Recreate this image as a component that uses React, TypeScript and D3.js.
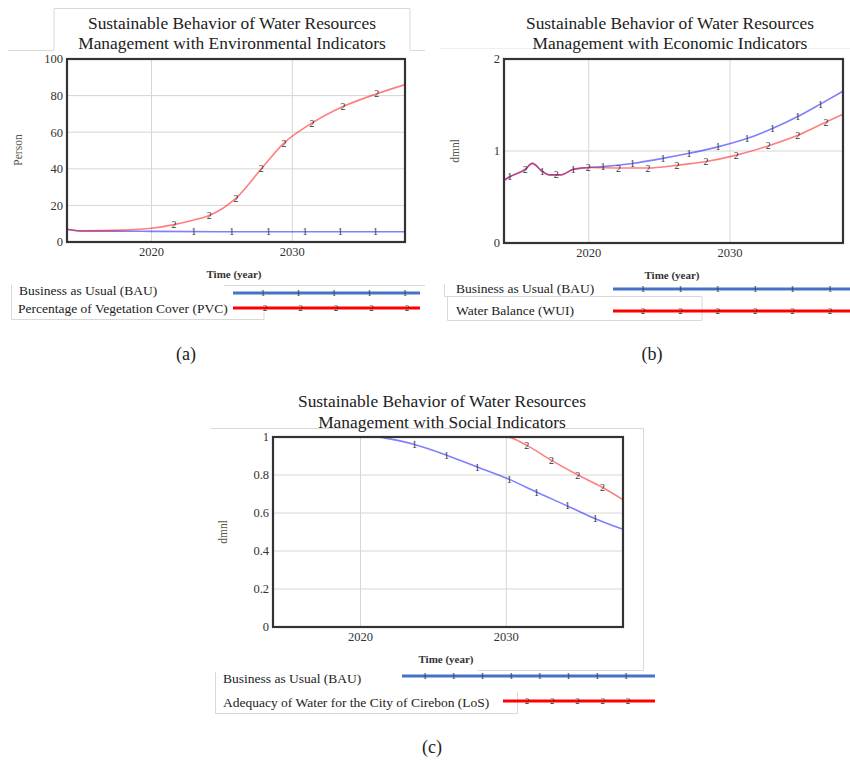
import React from 'react';
import * as d3 from 'd3';

// (a) environmental indicators
const envBauYears = [2014, 2015, 2018, 2020, 2025, 2038];
const envBauValues = [7, 6, 5.9, 5.8, 5.6, 5.6];
const envBauMarkers = [2023.0, 2025.7, 2028.3, 2030.9, 2033.4, 2035.9];
const pvcYears = [2014, 2015, 2018, 2020, 2021.6, 2023, 2024.1, 2026, 2027.8, 2029.4, 2031.4, 2033.6, 2036, 2038];
const pvcValues = [7, 6.1, 6.5, 7.5, 9.5, 12, 14.5, 24, 40, 54, 65, 74, 81, 86];
const pvcMarkers = [2021.6, 2024.1, 2026.0, 2027.8, 2029.4, 2031.4, 2033.6, 2036.0];
const envTicks = [0, 20, 40, 60, 80, 100];

// (b) economic indicators
const ecoBauYears = [2014, 2014.4, 2015.5, 2016, 2016.7, 2017.2, 2018, 2018.9, 2020, 2021, 2023.1, 2025.25, 2027.1, 2029.15, 2031.2, 2033, 2034.8, 2036.4, 2038];
const ecoBauValues = [0.68, 0.72, 0.8, 0.865, 0.78, 0.74, 0.74, 0.8, 0.82, 0.83, 0.865, 0.92, 0.975, 1.045, 1.135, 1.245, 1.375, 1.51, 1.65];
const ecoBauMarkers = [2014.4, 2016.7, 2018.9, 2021.0, 2023.1, 2025.25, 2027.1, 2029.15, 2031.2, 2033.0, 2034.8, 2036.4];
const wuiYears = [2014, 2014.4, 2015.5, 2016, 2016.7, 2017.2, 2018, 2018.9, 2020, 2022.1, 2024.2, 2026.25, 2028.3, 2030.45, 2032.7, 2034.8, 2036.8, 2038];
const wuiValues = [0.68, 0.72, 0.8, 0.865, 0.78, 0.74, 0.74, 0.8, 0.82, 0.815, 0.815, 0.845, 0.885, 0.955, 1.055, 1.17, 1.315, 1.4];
const wuiMarkers = [2015.5, 2017.7, 2019.96, 2022.1, 2024.2, 2026.25, 2028.3, 2030.45, 2032.7, 2034.8, 2036.8];
const ecoTicks = [0, 1, 2];

// (c) social indicators
const socBauYears = [2014, 2021, 2022, 2023.7, 2025.9, 2028, 2030.2, 2032.06, 2034.2, 2036.1, 2038];
const socBauValues = [1, 1, 0.99, 0.96, 0.904, 0.842, 0.777, 0.71, 0.637, 0.57, 0.514];
const socBauMarkers = [2023.7, 2025.9, 2028, 2030.2, 2032.06, 2034.2, 2036.1];
const losYears = [2014, 2030, 2031.4, 2033.1, 2034.9, 2036.6, 2038];
const losValues = [1, 1, 0.956, 0.877, 0.8, 0.734, 0.67];
const losMarkers = [2031.4, 2033.1, 2034.9, 2036.6];
const socTicks = [0, 0.2, 0.4, 0.6, 0.8, 1];

const xDomain = [2014, 2038];
const xTicks = [2020, 2030];

const SERIF = '"Liberation Serif", "Times New Roman", serif';
const BLUE = 'rgba(0,0,255,0.5)';
const RED = 'rgba(255,0,0,0.5)';
const LEG_BLUE = '#4472c4';
const LEG_RED = '#ff0000';

type Series = { years: number[]; values: number[]; markers: number[]; color: string; tag: string };

type PanelProps = {
  frame: { left: number; right: number; top: number; bottom: number };
  yDomain: number[];
  yTicks: number[];
  series: Series[];
  title: string[];
  titleX: number;
  titleY: number[];
  yLabel: string;
  yLabelPos: number[];
  timePos: number[];
};

const Panel = ({ frame, yDomain, yTicks, series, title, titleX, titleY, yLabel, yLabelPos, timePos }: PanelProps) => {
  const x = d3.scaleLinear().domain(xDomain).range([frame.left, frame.right]);
  const y = d3.scaleLinear().domain(yDomain).range([frame.bottom, frame.top]);

  return (
    <g>
      {title.map((t, i) => (
        <text key={t} x={titleX} y={titleY[i]} textAnchor="middle" fontSize={17.4} fill="#222" fontFamily={SERIF}>
          {t}
        </text>
      ))}
      {/* grid */}
      {yTicks.slice(1, -1).map((t) => (
        <line key={t} x1={frame.left} x2={frame.right} y1={y(t)} y2={y(t)} stroke="#d6d6d6" />
      ))}
      {xTicks.map((t) => (
        <line key={t} x1={x(t)} x2={x(t)} y1={frame.top} y2={frame.bottom} stroke="#d6d6d6" />
      ))}
      {/* lines */}
      {series.map((s) => {
        const pts = s.years.map((yr, i) => [yr, s.values[i]] as [number, number]);
        const line = d3
          .line<[number, number]>()
          .x((d) => x(d[0]))
          .y((d) => y(d[1]))
          .curve(d3.curveMonotoneX);
        return <path key={s.tag} d={line(pts) || ''} fill="none" stroke={s.color} strokeWidth={1.6} />;
      })}
      {series.map((s) => {
        const at = d3.scaleLinear().domain(s.years).range(s.values);
        return s.markers.map((m) => (
          <text
            key={s.tag + m}
            x={x(m)}
            y={y(at(m))}
            dy="0.35em"
            textAnchor="middle"
            fontSize={10}
            fill="#333"
            fontFamily={SERIF}
          >
            {s.tag}
          </text>
        ));
      })}
      <rect
        x={frame.left}
        y={frame.top}
        width={frame.right - frame.left}
        height={frame.bottom - frame.top}
        fill="none"
        stroke="#333"
        strokeWidth={2.2}
      />
      {/* y tick labels */}
      {yTicks.map((t) => (
        <text key={t} x={frame.left - 4} y={y(t)} dy="0.35em" textAnchor="end" fontSize={12.5} fill="#333" fontFamily={SERIF}>
          {d3.format('~g')(t)}
        </text>
      ))}
      {xTicks.map((t) => (
        <text key={t} x={x(t)} y={frame.bottom + 14} textAnchor="middle" fontSize={12.5} fill="#333" fontFamily={SERIF}>
          {t}
        </text>
      ))}
      <text
        transform={`translate(${yLabelPos[0]},${yLabelPos[1]}) rotate(-90)`}
        dy="0.35em"
        textAnchor="middle"
        fontSize={11.5}
        fill="#554"
        fontFamily={SERIF}
      >
        {yLabel}
      </text>
      <text x={timePos[0]} y={timePos[1]} dy="0.35em" textAnchor="middle" fontSize={11} fontWeight="bold" fill="#333" fontFamily={SERIF}>
        Time (year)
      </text>
    </g>
  );
};

type LegendRow = { label: string; tx: number; ty: number; x1: number; x2: number; ly: number; color: string; tag: string; n: number; m1: number; m2: number };

const Legend = ({ rows }: { rows: LegendRow[] }) => (
  <g>
    {rows.map((r) => (
      <g key={r.label}>
        <line x1={r.x1} x2={r.x2} y1={r.ly} y2={r.ly} stroke={r.color} strokeWidth={3} />
        {d3.range(r.n).map((i) => (
          <text
            key={i}
            x={r.m1 + ((r.m2 - r.m1) * i) / (r.n - 1)}
            y={r.ly}
            dy="0.35em"
            textAnchor="middle"
            fontSize={9}
            fill="#333"
            fontFamily={SERIF}
          >
            {r.tag}
          </text>
        ))}
        <text x={r.tx} y={r.ty} dy="0.35em" fontSize={13.5} fill="#222" fontFamily={SERIF}>
          {r.label}
        </text>
      </g>
    ))}
  </g>
);

export default function App() {
  return (
    <svg width={850} height={760} style={{ position: 'absolute', left: 0, top: 0, background: '#fff' }}>
      <rect width={850} height={760} fill="#fff" />
      {/* faint box outlines around titles and legends */}
      <g fill="none" stroke="#d9d9d9" strokeWidth={1}>
        <path d="M8,50.5 H54 V8.5 H410 V50.5 H425" />
        <path d="M224,285.5 H425 M11.5,285 V319.5 H264 V312" />
        <path d="M440,48.5 H850" stroke="#eee" />
        <path d="M444.5,284 V296.5 H702 V320.5 H447.5 V296" />
        <path d="M210,428.5 H643.5 V670.5 H478" />
        <path d="M215.5,672 V713.5 H517.5 V692" />
      </g>

      <Panel
        frame={{ left: 67, right: 405, top: 59, bottom: 242 }}
        yDomain={[0, 100]}
        yTicks={envTicks}
        series={[
          { years: envBauYears, values: envBauValues, markers: envBauMarkers, color: BLUE, tag: '1' },
          { years: pvcYears, values: pvcValues, markers: pvcMarkers, color: RED, tag: '2' },
        ]}
        title={['Sustainable Behavior of Water Resources', 'Management with Environmental Indicators']}
        titleX={232}
        titleY={[29, 49]}
        yLabel="Person"
        yLabelPos={[18, 150]}
        timePos={[234, 274]}
      />
      <Legend
        rows={[
          { label: 'Business as Usual (BAU)', tx: 19, ty: 290, x1: 233, x2: 420, ly: 293, color: LEG_BLUE, tag: '1', n: 5, m1: 263, m2: 405 },
          { label: 'Percentage of Vegetation Cover (PVC)', tx: 18, ty: 308, x1: 233, x2: 420, ly: 308, color: LEG_RED, tag: '2', n: 5, m1: 265, m2: 407 },
        ]}
      />

      <Panel
        frame={{ left: 504, right: 843, top: 59, bottom: 243 }}
        yDomain={[0, 2]}
        yTicks={ecoTicks}
        series={[
          { years: ecoBauYears, values: ecoBauValues, markers: ecoBauMarkers, color: BLUE, tag: '1' },
          { years: wuiYears, values: wuiValues, markers: wuiMarkers, color: RED, tag: '2' },
        ]}
        title={['Sustainable Behavior of Water Resources', 'Management with Economic Indicators']}
        titleX={670}
        titleY={[29, 49]}
        yLabel="dmnl"
        yLabelPos={[455, 151]}
        timePos={[672, 275]}
      />
      <Legend
        rows={[
          { label: 'Business as Usual (BAU)', tx: 456, ty: 288, x1: 613, x2: 850, ly: 289, color: LEG_BLUE, tag: '1', n: 6, m1: 643, m2: 830 },
          { label: 'Water Balance (WUI)', tx: 456, ty: 310, x1: 613, x2: 850, ly: 311, color: LEG_RED, tag: '2', n: 6, m1: 643, m2: 830 },
        ]}
      />

      <Panel
        frame={{ left: 273, right: 623, top: 437, bottom: 627 }}
        yDomain={[0, 1]}
        yTicks={socTicks}
        series={[
          { years: socBauYears, values: socBauValues, markers: socBauMarkers, color: BLUE, tag: '1' },
          { years: losYears, values: losValues, markers: losMarkers, color: RED, tag: '2' },
        ]}
        title={['Sustainable Behavior of Water Resources', 'Management with Social Indicators']}
        titleX={442}
        titleY={[407, 428]}
        yLabel="dmnl"
        yLabelPos={[223, 532]}
        timePos={[446, 659]}
      />
      <Legend
        rows={[
          { label: 'Business as Usual (BAU)', tx: 223, ty: 678, x1: 402, x2: 655, ly: 676, color: LEG_BLUE, tag: '1', n: 8, m1: 425, m2: 626 },
          { label: 'Adequacy of Water for the City of Cirebon (LoS)', tx: 223, ty: 702, x1: 503, x2: 655, ly: 701, color: LEG_RED, tag: '2', n: 5, m1: 527, m2: 628 },
        ]}
      />

      {[
        ['(a)', 186, 354],
        ['(b)', 652, 354],
        ['(c)', 432, 747],
      ].map(([t, cx, cy]) => (
        <text key={t as string} x={cx as number} y={cy as number} dy="0.35em" textAnchor="middle" fontSize={18} fill="#222" fontFamily={SERIF}>
          {t}
        </text>
      ))}
    </svg>
  );
}
